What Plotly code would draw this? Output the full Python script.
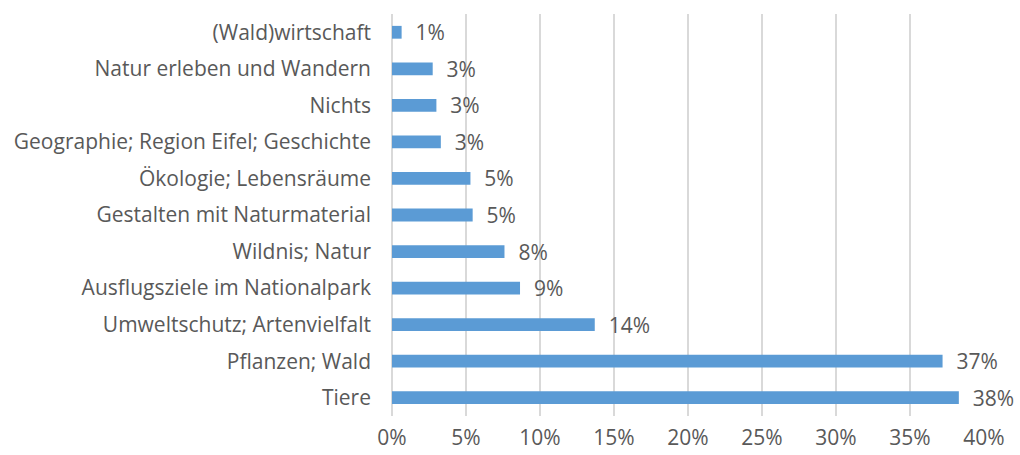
import plotly.graph_objects as go

FONT = "'Open Sans', sans-serif"
GREY_TEXT = "#595959"
BAR_BLUE = "#5b9bd5"
GRID = "#d9d9d9"

# Bottom to top, as drawn in the chart
categories = [
    "Tiere",
    "Pflanzen; Wald",
    "Umweltschutz; Artenvielfalt",
    "Ausflugsziele im Nationalpark",
    "Wildnis; Natur",
    "Gestalten mit Naturmaterial",
    "Ökologie; Lebensräume",
    "Geographie; Region Eifel; Geschichte",
    "Nichts",
    "Natur erleben und Wandern",
    "(Wald)wirtschaft",
]
shares = [38.3, 37.2, 13.7, 8.65, 7.6, 5.45, 5.3, 3.3, 3.0, 2.75, 0.65]
tick_vals = [0, 5, 10, 15, 20, 25, 30, 35, 40]
tick_text = [f"{v}%" for v in tick_vals]

labels = [f"  {round(v):d}%" for v in shares]

fig = go.Figure(
    go.Bar(
        x=shares,
        y=categories,
        orientation="h",
        marker=dict(color=BAR_BLUE, line=dict(width=0)),
        width=0.35,
        text=labels,
        textposition="outside",
        constraintext="none",
        textfont=dict(family=FONT, size=21, color=GREY_TEXT),
        cliponaxis=False,
        hoverinfo="skip",
    )
)

fig.update_layout(
    width=1020,
    height=455,
    font=dict(family=FONT, size=21, color=GREY_TEXT),
    plot_bgcolor="white",
    paper_bgcolor="white",
    margin=dict(l=392, r=36, t=14, b=39, autoexpand=False),
    showlegend=False,
    uniformtext=dict(minsize=20, mode="show"),
)
fig.update_xaxes(
    range=[0, 40],
    tickvals=tick_vals,
    ticktext=tick_text,
    showgrid=True,
    gridcolor=GRID,
    gridwidth=2,
    zeroline=True,
    zerolinecolor=GRID,
    zerolinewidth=2,
    showline=False,
    ticks="",
    ticklabelstandoff=7,
    fixedrange=True,
)
fig.update_yaxes(
    categoryorder="array",
    categoryarray=categories,
    showgrid=False,
    showline=False,
    ticks="",
    ticklabelstandoff=20,
    fixedrange=True,
)

fig.write_html(
    "out.html",
    config={"displayModeBar": False},
    post_script="document.body.style.margin='0';",
)
